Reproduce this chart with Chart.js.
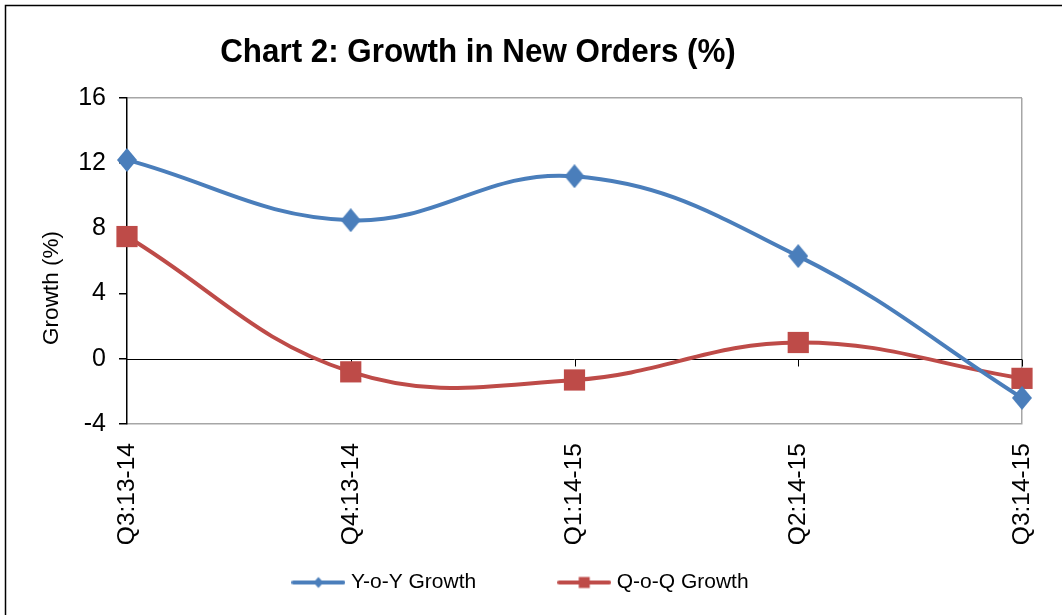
<!DOCTYPE html>
<html>
<head>
<meta charset="utf-8">
<script src="https://cdn.jsdelivr.net/npm/chart.js@4.4.1/dist/chart.umd.min.js"></script>
<style>
  html, body { margin: 0; padding: 0; background: #fff; }
  #wrap { position: relative; width: 1062px; height: 615px; }
</style>
</head>
<body>
<div id="wrap"><canvas id="c" width="1062" height="615"></canvas></div>
<script>
const chartTitle = 'Chart 2: Growth in New Orders (%)';
const yAxisTitle = 'Growth (%)';
const categories = ['Q3:13-14', 'Q4:13-14', 'Q1:14-15', 'Q2:14-15', 'Q3:14-15'];
const yoyGrowth = [12.2, 8.5, 11.2, 6.3, -2.4];
const qoqGrowth = [7.5, -0.8, -1.3, 1.0, -1.2];
const yTicks = [-4, 0, 4, 8, 12, 16];
const seriesNames = ['Y-o-Y Growth', 'Q-o-Q Growth'];

const BLUE = '#4A7EBB';
const RED = '#BE4B48';
const FONT = "'Liberation Sans', Arial, sans-serif";

const ICON_W = 54;
function legendIcon(color, shape) {
  const cv = document.createElement('canvas');
  cv.width = ICON_W; cv.height = 14;
  const g = cv.getContext('2d');
  g.strokeStyle = color; g.lineWidth = 4; g.lineCap = 'round';
  g.beginPath(); g.moveTo(2, 7); g.lineTo(ICON_W - 2, 7); g.stroke();
  g.fillStyle = color;
  const cx = ICON_W / 2;
  if (shape === 'diamond') {
    g.beginPath(); g.moveTo(cx, 1.5); g.lineTo(cx + 5, 7); g.lineTo(cx, 12.5); g.lineTo(cx - 5, 7); g.closePath(); g.fill();
  } else {
    g.fillRect(cx - 5.5, 1.5, 11, 11);
  }
  return cv;
}
const icons = [legendIcon(BLUE, 'diamond'), legendIcon(RED, 'square')];

function diamondMarker(color, w, h) {
  const cv = document.createElement('canvas');
  cv.width = w; cv.height = h;
  const g = cv.getContext('2d');
  g.fillStyle = color;
  g.beginPath();
  g.moveTo(w / 2, 0); g.lineTo(w, h / 2); g.lineTo(w / 2, h); g.lineTo(0, h / 2);
  g.closePath(); g.fill();
  return cv;
}
const blueDiamond = diamondMarker(BLUE, 20, 24);

const decor = {
  id: 'decor',
  afterLayout(chart) {
    // let the rotated category labels extend below the (short) axis box
    chart.scales.x._computeLabelArea = () => undefined;
  },
  beforeDraw(chart) {
    const ctx = chart.ctx;
    ctx.save();
    ctx.fillStyle = '#fff';
    ctx.fillRect(0, 0, chart.width, chart.height);
    ctx.strokeStyle = '#000';
    ctx.lineWidth = 1.5;
    ctx.beginPath();
    ctx.moveTo(5.5, chart.height + 5);
    ctx.lineTo(5.5, 5.5);
    ctx.lineTo(chart.width + 5, 5.5);
    ctx.stroke();
    ctx.restore();
  },
  beforeDatasetsDraw(chart) {
    const ctx = chart.ctx;
    const x = chart.scales.x, y = chart.scales.y;
    const y0 = Math.round(y.getPixelForValue(0)) + 0.5;
    ctx.save();
    ctx.strokeStyle = '#000';
    ctx.lineWidth = 1;
    ctx.beginPath();
    ctx.moveTo(x.left, y0);
    ctx.lineTo(x.right, y0);
    for (let i = 1; i < categories.length; i++) {
      const px = Math.round(x.getPixelForValue(i)) + 0.5;
      ctx.moveTo(px, y0);
      ctx.lineTo(px, y0 + 7);
    }
    ctx.stroke();
    ctx.restore();
  },
  afterDraw(chart) {
    const ctx = chart.ctx;
    ctx.save();
    ctx.fillStyle = '#000';
    ctx.font = "bold 33px " + FONT;
    ctx.textAlign = 'center';
    ctx.textBaseline = 'alphabetic';
    ctx.translate(478, 62);
    ctx.scale(0.95, 1);
    ctx.fillText(chartTitle, 0, 0);
    ctx.restore();

    ctx.save();
    ctx.fillStyle = '#000';
    ctx.font = "22.5px " + FONT;
    ctx.textAlign = 'center';
    ctx.textBaseline = 'middle';
    ctx.translate(52, 288);
    ctx.rotate(-Math.PI / 2);
    ctx.fillText(yAxisTitle, 0, 0);
    ctx.restore();
  }
};

new Chart(document.getElementById('c'), {
  type: 'line',
  data: {
    labels: categories,
    datasets: [
      {
        label: seriesNames[0],
        data: yoyGrowth,
        borderColor: BLUE,
        backgroundColor: BLUE,
        borderWidth: 4,
        tension: 0.4,
        pointStyle: blueDiamond,
        pointRadius: 12,
        pointHoverRadius: 12,
        pointBorderWidth: 0,
        clip: false
      },
      {
        label: seriesNames[1],
        data: qoqGrowth,
        borderColor: RED,
        backgroundColor: RED,
        borderWidth: 4,
        tension: 0.4,
        pointStyle: 'rect',
        pointRadius: 15,
        pointHoverRadius: 15,
        pointBorderWidth: 0,
        clip: false
      }
    ]
  },
  options: {
    responsive: false,
    animation: false,
    events: [],
    layout: { padding: { top: 98, right: 40, left: 23, bottom: 12 } },
    scales: {
      x: {
        offset: false,
        grid: {
          drawTicks: false,
          color: (c) => (c.index === categories.length - 1 ? '#a6a6a6' : 'rgba(0,0,0,0)'),
          lineWidth: 1.5
        },
        border: { display: true, color: '#a6a6a6', width: 1.5 },
        ticks: {
          color: '#000',
          font: { family: FONT, size: 24.5 },
          minRotation: 90,
          maxRotation: 90,
          padding: 19
        },
        afterFit(scale) {
          scale.height = 62;
          scale.paddingLeft = 0;
          scale.paddingRight = 0;
        }
      },
      y: {
        min: -4,
        max: 16,
        afterBuildTicks(scale) { scale.ticks = yTicks.map(v => ({ value: v })); },
        grid: {
          color: (c) => (c.tick && c.tick.value === 16 ? '#a6a6a6' : 'rgba(0,0,0,0)'),
          tickColor: '#000',
          tickLength: 8,
          lineWidth: 1.5
        },
        border: { display: true, color: '#000', width: 1.5 },
        ticks: {
          color: '#000',
          font: { family: FONT, size: 25 },
          padding: 13
        },
        title: { display: false },
        afterFit(scale) { scale.width = 104; }
      }
    },
    plugins: {
      title: { display: false },
      tooltip: { enabled: false },
      legend: {
        display: true,
        position: 'bottom',
        labels: {
          color: '#000',
          font: { family: FONT, size: 21 },
          usePointStyle: true,
          pointStyleWidth: ICON_W - 10,
          padding: 86,
          generateLabels: (chart) => seriesNames.map((n, i) => ({
            text: n,
            datasetIndex: i,
            pointStyle: icons[i],
            fillStyle: i === 0 ? BLUE : RED,
            strokeStyle: i === 0 ? BLUE : RED,
            lineWidth: 0,
            hidden: false,
            fontColor: '#000'
          }))
        }
      }
    }
  },
  plugins: [decor]
});
</script>
</body>
</html>
